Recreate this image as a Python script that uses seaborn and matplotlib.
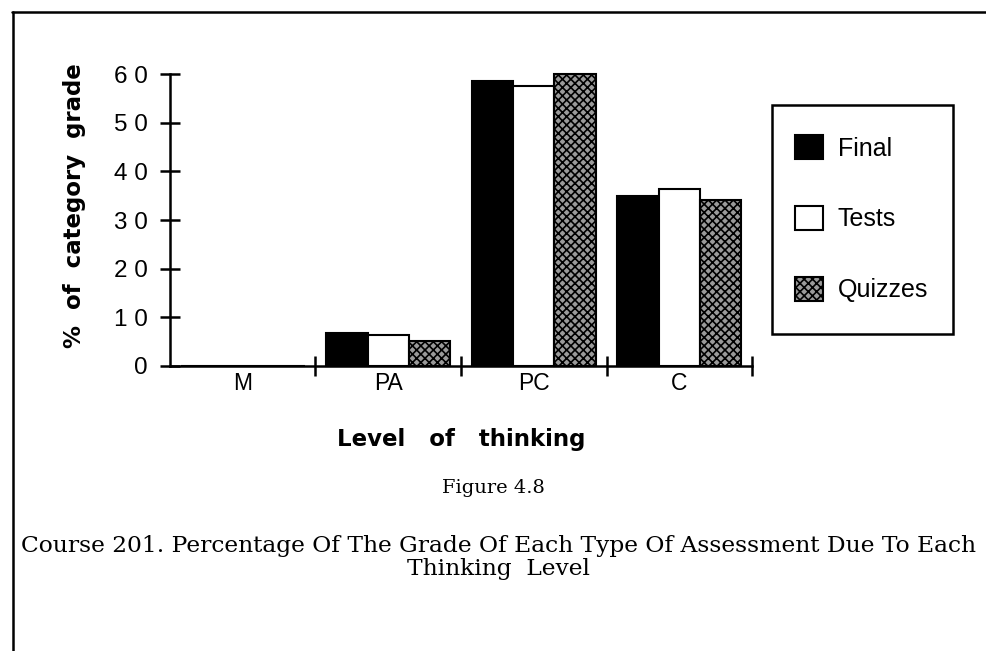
import matplotlib
matplotlib.use("Agg")
import matplotlib.pyplot as plt
import seaborn as sns
import pandas as pd
from matplotlib.lines import Line2D
from matplotlib.patches import Rectangle

categories = ["M", "PA", "PC", "C"]
final = [0.0, 6.8, 58.5, 35.0]
tests = [0.0, 6.4, 57.5, 36.3]
quizzes = [0.0, 5.1, 60.0, 34.1]
series_names = ["Final", "Tests", "Quizzes"]
ytick_values = [0, 10, 20, 30, 40, 50, 60]
ytick_labels = ["0", "1 0", "2 0", "3 0", "4 0", "5 0", "6 0"]

rows = []
for name, vals in zip(series_names, [final, tests, quizzes]):
    for c, v in zip(categories, vals):
        rows.append({"Level": c, "Assessment": name, "Value": v})
df = pd.DataFrame(rows)

sns.set_theme(style="ticks")
plt.rcParams["font.family"] = ["Liberation Sans", "DejaVu Sans"]
plt.rcParams["font.stretch"] = "normal"
plt.rcParams["hatch.linewidth"] = 1.2
for k in ["text.color", "axes.labelcolor", "xtick.color", "ytick.color", "axes.edgecolor"]:
    plt.rcParams[k] = "black"

fig = plt.figure(figsize=(9.86, 6.51), dpi=100)
ax = fig.add_axes([0.1724, 0.4378, 0.5903, 0.4485])

palette = {"Final": "black", "Tests": "white", "Quizzes": "#9a9a9a"}
sns.barplot(data=df, x="Level", y="Value", hue="Assessment", order=categories,
            hue_order=series_names, palette=palette, width=0.85, gap=0,
            edgecolor="black", linewidth=1.5, saturation=1, ax=ax, legend=True)

for p in ax.containers[2]:
    p.set_hatch("xxxx")
for cont in ax.containers:
    for p in cont:
        p.set_clip_on(False)

ax.set_xlim(-0.5, 3.5)
ax.set_ylim(0, 60)
for s in ["top", "right"]:
    ax.spines[s].set_visible(False)
for s in ["left", "bottom"]:
    ax.spines[s].set_linewidth(1.8)
    ax.spines[s].set_color("black")

ax.set_yticks(ytick_values)
ax.set_yticklabels(ytick_labels, fontsize=17.5)
ax.tick_params(axis="y", left=True, direction="inout", length=14, width=1.8,
               color="black", pad=9)

ax.set_xticks(range(len(categories)))
ax.set_xticklabels(categories, fontsize=16.5)
ax.tick_params(axis="x", which="major", bottom=True, length=0, pad=4)
ax.set_xticks([0.5, 1.5, 2.5, 3.5], minor=True)
ax.tick_params(axis="x", which="minor", bottom=True, direction="inout", length=14,
               width=1.8, color="black")

bold = dict(family="DejaVu Sans", fontweight="bold")
ax.set_ylabel("%  of  category  grade", fontsize=16.5, **bold)
ax.yaxis.set_label_coords(-0.145, 0.55)
ax.set_xlabel("Level   of   thinking", fontsize=16.5, labelpad=24, **bold)

handles = ax.containers
leg0 = ax.get_legend()
if leg0 is not None:
    leg0.remove()
fig.add_artist(Rectangle((772 / 986, 1 - 334 / 651), (953 - 772) / 986, (334 - 105) / 651,
                         transform=fig.transFigure, facecolor="none", edgecolor="black",
                         linewidth=1.8))
leg = fig.legend(handles, series_names, loc="upper left",
                 bbox_to_anchor=(795 / 986, 1 - 135 / 651), bbox_transform=fig.transFigure,
                 fontsize=18, frameon=False, borderaxespad=0,
                 borderpad=0, labelspacing=1.82, handlelength=1.1, handleheight=1.1,
                 handletextpad=0.6)

serif = ["DejaVu Serif", "Liberation Serif"]
fig.text(0.500, 0.2504, "Figure 4.8", ha="center", va="center", fontsize=14, family=serif)
fig.text(0.506, 0.143,
         "Course 201. Percentage Of The Grade Of Each Type Of Assessment Due To Each\nThinking  Level",
         ha="center", va="center", fontsize=16.8, family=serif, linespacing=1.05)

fig.add_artist(Line2D([0.0122, 1.0], [0.9816, 0.9816], transform=fig.transFigure,
                      color="black", linewidth=1.8))
fig.add_artist(Line2D([0.0132, 0.0132], [0.9816, 0.0], transform=fig.transFigure,
                      color="black", linewidth=1.8))

fig.savefig("out.png", dpi=100)
